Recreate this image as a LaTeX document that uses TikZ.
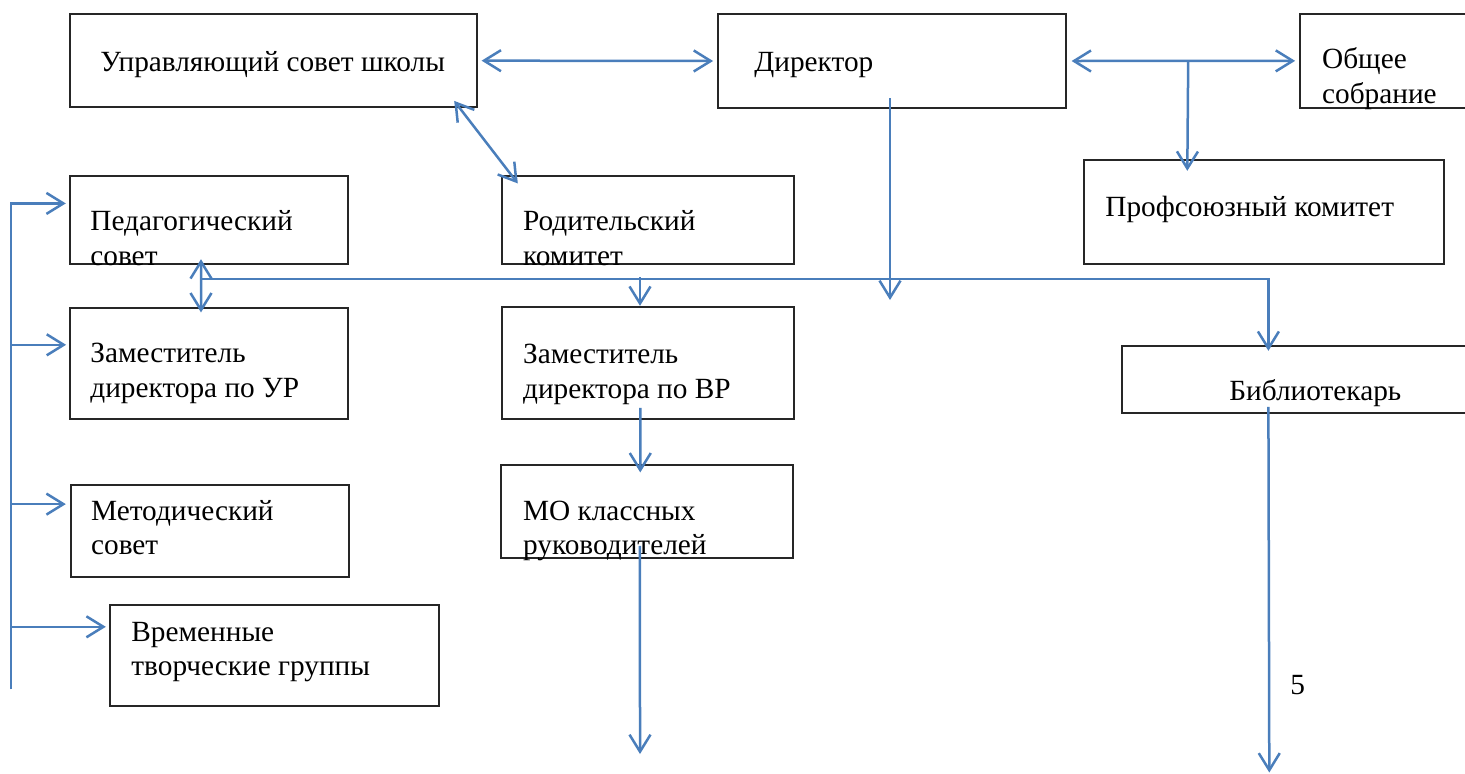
\documentclass[tikz,border=0pt]{standalone}
\usepackage{fontspec}
\setmainfont{Liberation Serif}
\usetikzlibrary{arrows.meta,fit}
\definecolor{lineblue}{RGB}{74,126,187}
\newcommand{\twoline}[2]{\vtop{\baselineskip=17.25pt\hbox{#1}\hbox{#2}}}
\begin{document}
\begin{tikzpicture}[x=0.5pt,y=-0.5pt,
  box/.style={draw=black!85,line width=0.9pt,inner sep=0pt},
  txt/.style={anchor=base west,inner sep=0pt,font=\fontsize{14.65}{17.25}\selectfont},
  conn/.style={draw=lineblue,line width=1.25pt},
  arr/.style={-{Straight Barb[length=8.5pt,width=10.5pt]}},
  darr/.style={{Straight Barb[length=8.5pt,width=10.5pt]}-{Straight Barb[length=8.5pt,width=10.5pt]}}]
\useasboundingbox (0,0) rectangle (1465,773);
\clip (0,0) rectangle (1465,773);
% boxes
\node[box, fit={(70.3,14) (476.7,107.3)}] (usv) {};
\node[box, fit={(718,14) (1066,108)}] (dir) {};
\node[box, fit={(1300,14) (1475,107.7)}] (obs) {};
\node[box, fit={(1084.3,160) (1444.3,264)}] (prof) {};
\node[box, fit={(69.7,176) (348,264)}] (ped) {};
\node[box, fit={(502,175.7) (794,264)}] (rod) {};
\node[box, fit={(70,307.7) (348,419.3)}] (zur) {};
\node[box, fit={(502,307.3) (794,419.3)}] (zvr) {};
\node[box, fit={(1121.7,345.7) (1475,412.7)}] (bibl) {};
\node[box, fit={(70.7,485.3) (348.7,577.3)}] (met) {};
\node[box, fit={(501,465.3) (793.3,557.7)}] (mo) {};
\node[box, fit={(110.3,605) (439.3,706)}] (vrem) {};
% texts
\node[txt] (usvT) at (100,71) {Управляющий совет школы};
\node[txt] (dirT) at (754,71) {Директор};
\node[txt] (obsT) at (1321.7,68.5) {\twoline{Общее}{собрание}};
\node[txt] (profT) at (1105,216.7) {Профсоюзный комитет};
\node[txt] (pedT) at (90,230.7) {\twoline{Педагогический}{совет}};
\node[txt] (rodT) at (522.7,230.7) {\twoline{Родительский}{комитет}};
\node[txt] (zurT) at (90,362.7) {\twoline{Заместитель}{директора по УР}};
\node[txt] (zvrT) at (522.7,363.5) {\twoline{Заместитель}{директора по ВР}};
\node[txt] (biblT) at (1229,400) {Библиотекарь};
\node[txt] (metT) at (90.7,520) {\twoline{Методический}{совет}};
\node[txt] (moT) at (522.7,520) {\twoline{МО классных}{руководителей}};
\node[txt] (vremT) at (131,641) {\twoline{Временные}{творческие группы}};
\node[txt] (five) at (1290,694) {5};
% connectors
\draw[conn,darr,shorten <=2pt,shorten >=2pt] (usv.east) -- (dir.west);
\draw[conn,darr,shorten <=2.35pt,shorten >=2pt] (dir.east) -- (obs.west);
\draw[conn,arr] ([shift={(121.3,0)}]dir.east) -- ([shift={(-77,11.7)}]prof.north);
\draw[conn,darr] ([shift={(-23.4,-7.3)}]usv.south east) -- ([shift={(16.7,8.6)}]rod.north west);
\coordinate (dirEnd) at (890,300);
\draw[conn,arr] ([shift={(-2,-10.7)}]dir.south) -- (dirEnd);
% bus
\draw[conn,arr] ([shift={(-7.85,14)}]ped.south) -| ([shift={(147.6,6)}]bibl.north west);
\draw[conn,darr] ([shift={(-7.85,-5.7)}]ped.south) -- ([shift={(-8,5.6)}]zur.north);
\draw[conn,arr] ([shift={(-8,-29.3)}]zvr.north) -- ([shift={(-8,-0.6)}]zvr.north);
\draw[conn,arr] ([shift={(-7.7,-12.3)}]zvr.south) -- ([shift={(-6.9,8)}]mo.north);
\coordinate (moEnd) at (640,754);
\draw[conn,arr] ([shift={(-7.2,-12.7)}]mo.south) -- (moEnd);
\coordinate (bibEnd) at (1269.3,772.5);
\draw[conn,arr] ([shift={(147.6,-6.7)}]bibl.south west) -- (bibEnd);
% left rail
\coordinate (railBot) at (11,689.3);
\coordinate (tp) at ([shift={(-3,28.3)}]ped.north west);
\coordinate (tz) at ([shift={(-3,38)}]zur.north west);
\coordinate (tm) at ([shift={(-4,19.7)}]met.north west);
\coordinate (tv) at ([shift={(-3.6,22.7)}]vrem.north west);
\draw[conn,arr] (railBot) |- (tp);
\draw[conn,arr] (railBot |- tz) -- (tz);
\draw[conn,arr] (railBot |- tm) -- (tm);
\draw[conn,arr] (railBot |- tv) -- (tv);
\end{tikzpicture}
\end{document}
